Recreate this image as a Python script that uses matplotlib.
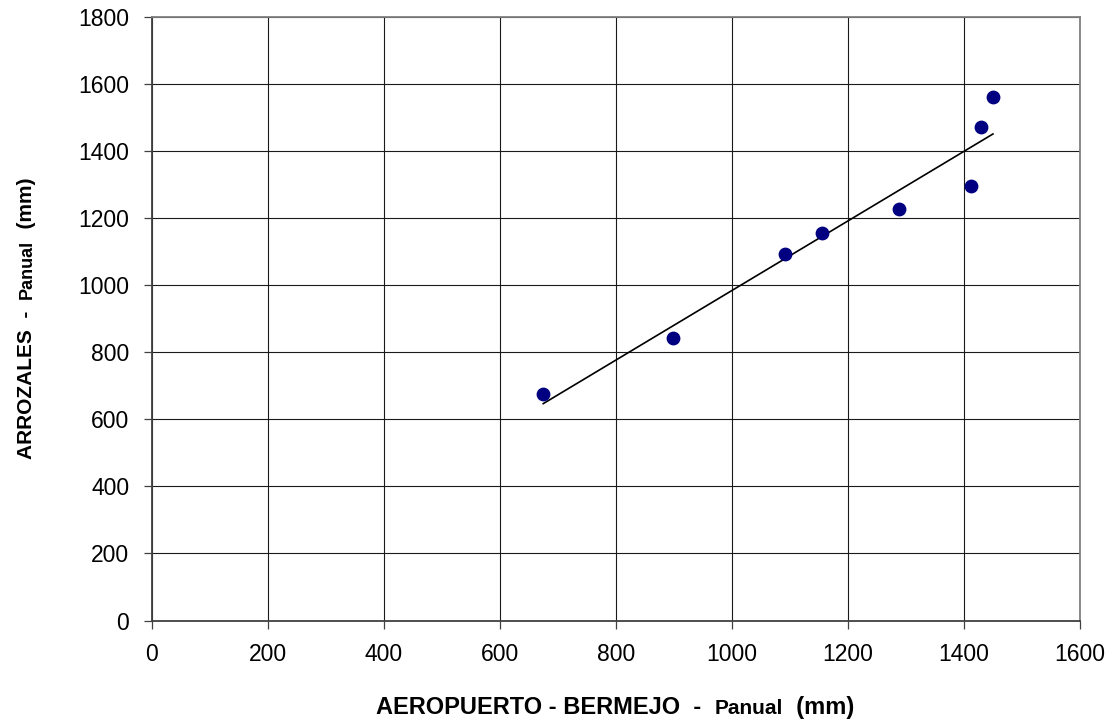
import numpy as np
import matplotlib.pyplot as plt

plt.rcParams['font.family'] = ['Liberation Sans', 'DejaVu Sans']

# Precipitacion anual (mm)
aeropuerto = [675, 898, 1092, 1155, 1288, 1413, 1430, 1450]
arrozales = [676, 843, 1094, 1156, 1227, 1294, 1470, 1562]

x_ticks = [0, 200, 400, 600, 800, 1000, 1200, 1400, 1600]
y_ticks = [0, 200, 400, 600, 800, 1000, 1200, 1400, 1600, 1800]

fig = plt.figure(figsize=(11.13, 7.27), dpi=100)
ax = fig.add_axes([151.5 / 1113, 1 - 620.5 / 727, (1080 - 151.5) / 1113, (620.5 - 16.7) / 727])

ax.set_xlim(0, 1600)
ax.set_ylim(0, 1800)
ax.set_xticks(x_ticks)
ax.set_yticks(y_ticks)
ax.tick_params(labelsize=16.5, length=6, width=0.9, color='#404040')
ax.tick_params(axis='x', pad=10)
ax.tick_params(axis='y', pad=10)
ax.grid(True, color='#1a1a1a', linewidth=0.8)
ax.set_axisbelow(True)

for side in ['top', 'right']:
    ax.spines[side].set_color('#808080')
    ax.spines[side].set_linewidth(1.3)
for side in ['left', 'bottom']:
    ax.spines[side].set_color('#404040')
    ax.spines[side].set_linewidth(1.3)

# regresion lineal
x = np.array(aeropuerto)
y = np.array(arrozales)
m, b = np.polyfit(x, y, 1)
xl = np.array([x.min(), x.max()])
ax.plot(xl, m * xl + b, color='black', linewidth=1.2, zorder=3)

ax.scatter(x, y, s=80, color='#000080', zorder=4)


def pieces_label(parts, px, py, rotation=0):
    # parts: (texto, tamano); centrado en (px, py) en pixeles de figura
    r = fig.canvas.get_renderer()
    texts = []
    widths = []
    for s, sz in parts:
        t = fig.text(0, 0, s, fontsize=sz, fontweight='bold', ha='left',
                     va='baseline', rotation_mode='anchor')
        widths.append(t.get_window_extent(r).width)
        texts.append(t)
    total = sum(widths)
    pos = -total / 2
    for t, w in zip(texts, widths):
        if rotation == 0:
            t.set_position(((px + pos) / 1113, py / 727))
        else:
            t.set_rotation(rotation)
            t.set_position((px / 1113, (py + pos) / 727))
        pos += w


pieces_label([('AEROPUERTO - BERMEJO  -  ', 17), ('Panual', 15), ('  (mm)', 17)],
             615.5, 727 - 714)
pieces_label([('ARROZALES  -  ', 15), ('Panual', 13), ('  (mm)', 15)],
             32, 727 - 318, rotation=90)

fig.savefig('out.png', dpi=100)
